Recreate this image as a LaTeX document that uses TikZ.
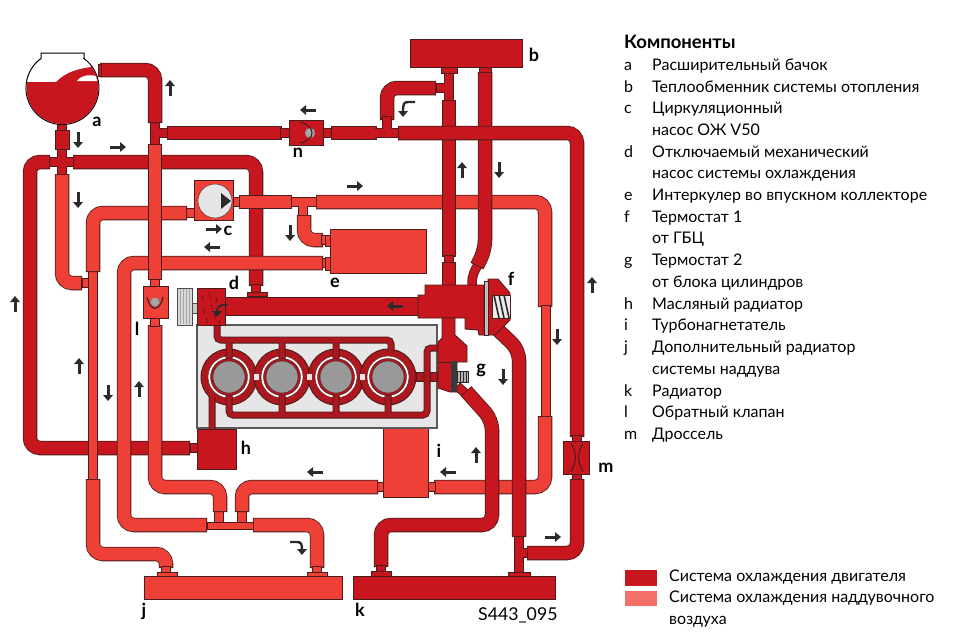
\documentclass[tikz,border=0pt]{standalone}
\usepackage{fontspec}
\setmainfont{Lato}
\usetikzlibrary{arrows.meta}
\definecolor{hotred}{HTML}{C8161E}
\definecolor{coolred}{HTML}{EE4036}
\definecolor{jacketred}{HTML}{AE171D}
\definecolor{pipeink}{HTML}{4A1C1C}
\definecolor{flowink}{HTML}{2B2B2B}
\definecolor{blockgray}{HTML}{E6E6E6}
\tikzset{
pipe/.style n args={2}{draw=#1,line width=#2pt-1.6pt,rounded corners=10pt,line join=round,shorten >=.8pt,shorten <=.8pt,
  preaction={draw=pipeink,line width=#2pt,shorten >=0pt,shorten <=0pt}},
hot/.style={pipe={hotred}{14.5}},hotlink/.style={pipe={hotred}{9.5}},
cool/.style={pipe={coolred}{14.5}},coollink/.style={pipe={coolred}{9.5}},
hotbox/.style={draw=pipeink,line width=.9pt,fill=hotred},
coolbox/.style={draw=pipeink,line width=.9pt,fill=coolred},
flow/.style={draw=flowink,line width=3pt,-{Triangle[length=6pt,width=9.5pt]}},
tag/.style={font=\fontsize{18}{18}\selectfont\bfseries,text=black,inner sep=0pt},
legtext/.style={font=\fontsize{16}{16}\selectfont,text=black,inner sep=0pt,anchor=base west}
}
\begin{document}
\begin{tikzpicture}[x=1pt,y=-1pt]
\useasboundingbox (0,0) rectangle (960,637);
\fill[white] (0,0) rectangle (960,637);
% coolant pipes below the charge air circuit
\draw[hotlink] (155,121)--(155,146) (155,133)--(170,133);
\draw[hotlink] (62,122)--(62,176) (48,162)--(76,162);
\draw[hot] (100,70)--(155,70)--(155,123);
\draw[hot] (167,133)--(282,133);
\draw[hotlink] (280,133)--(292,133);
\draw[hotlink] (321,133)--(333,133);
\draw[hot] (331,133)--(377,133);
\fill[hotred,draw=pipeink] (55,130) rectangle (69,149);
\draw[hot] (73,162)--(256,162)--(256,286);
\draw[hotlink] (50,162)--(30,162)--(30,448)--(199,448);
\draw[hot] (50,162)--(30,162)--(30,448)--(190,448);
\draw[hotlink] (256,284)--(256,294);
\draw[hotbox] (247,292) rectangle (267,296);
% charge air circuit
\draw[coollink] (82,283)--(97,283);
\draw[coollink] (93,270)--(93,481);
\draw[cool] (62,174)--(62,283)--(82,283);
\draw[coollink] (185,213)--(196,213);
\draw[cool] (187,213)--(93,213)--(93,272);
\draw[coollink] (231,202)--(241,202);
\draw[coollink] (290,202)--(318,202) (303,202)--(303,217);
\draw[cool] (239,202)--(292,202);
\draw[cool] (304,215)--(304,240)--(323,240);
\draw[coollink] (321,240)--(332,240);
\draw[coollink] (321,263)--(332,263);
\draw[cool] (323,263)--(124,263)--(124,525)--(207,525);
\draw[cool] (316,202)--(545,202)--(545,307);
\draw[coollink] (546,305)--(546,418);
\draw[cool] (545,416)--(545,487)--(434,487);
\draw[coollink] (436,487)--(426,487);
\draw[coollink] (385,487)--(376,487);
\draw[coollink] (219,527)--(219,510) (242,527)--(242,510);
\draw[cool] (378,487)--(242,487)--(242,512);
\draw[cool] (220,512)--(220,487)--(155,487)--(155,325);
\fill[coolred,draw=pipeink,line width=.9pt] (207,522) rectangle (253,529);
\draw[cool] (253,525)--(317,525)--(317,568);
\draw[coollink] (317,566)--(317,574);
\draw[coolbox] (307,572) rectangle (327,576);
\draw[cool] (93,479)--(93,554)--(166,554)--(166,568);
\draw[coollink] (166,566)--(166,574);
\draw[coolbox] (157,572) rectangle (177,576);
\draw[coolbox] (144,576) rectangle (342,599);
\draw[coollink] (155,278)--(155,288);
\draw[coollink] (155,316)--(155,327);
\draw[cool] (155,144)--(155,280);
\draw[coolbox] (143,286) rectangle (168,318);
\fill[gray!70,draw=gray] (155,302) circle (4.5);
\draw[pipeink,line width=1.1pt] (147,297) .. controls (150,312) and (160,312) .. (163,297);
\draw[coolbox] (194,180) rectangle (233,220);
\fill[blockgray,draw=pipeink] (215,201) circle (17);
\fill[flowink] (221,193)--(231,201)--(221,209)--cycle;
\draw[coolbox] (330,229) rectangle (426,273);
\draw[coolbox] (325,235) rectangle (330,246);
\draw[coolbox] (325,257) rectangle (330,270);
\draw[coolbox] (383,428) rectangle (428,497);
% radiators and coolant risers on top of the air circuit
\draw[hotlink] (449,65)--(449,102) (436,88)--(449,88);
\draw[hotbox] (441,67) rectangle (457,73);
\draw[hotbox] (410,39) rectangle (522,67);
\draw[hot] (436,88)--(387,88)--(387,120);
\draw[hotlink] (375,133)--(400,133) (387,116)--(387,133);
\draw[hot] (449,100)--(449,257);
\draw[hotlink] (449,255)--(449,264);
\draw[hot] (449,262)--(449,287);
\draw[hotbox] (479,67) rectangle (491,73);
\draw[hotlink] (479,264)--(472,272)--(472,288);
\draw[hot] (485,72)--(485,250)--(477,266);
\draw[hot] (398,133)--(577,133)--(577,437);
\draw[hotlink] (577,435)--(577,443);
\draw[hotlink] (577,472)--(577,481);
\draw[hotlink] (519,535)--(519,574) (519,553)--(529,553);
\draw[hot] (577,479)--(577,553)--(527,553);
\draw[hotbox] (508,572) rectangle (530,576);
\draw[hot] (497,329)--(519,350)--(519,537);
\draw[hotlink] (457,386)--(466,394);
\draw[hot] (466,391)--(492,420)--(492,525)--(381,525)--(381,567);
\draw[hotlink] (381,565)--(381,573);
\draw[hotbox] (371,571) rectangle (391,576);
\draw[hotbox] (353,576) rectangle (555,599);
% valves
\draw[hotbox] (289,120) rectangle (323,145);
\fill[gray!70,draw=gray] (310,133) circle (5);
\draw[pipeink,line width=1.1pt] (300,122) .. controls (316,126) and (316,140) .. (300,143);
\draw[hotbox] (563,441) rectangle (589,474);
\draw[pipeink,line width=1pt] (571,443) .. controls (577,455) and (577,460) .. (571,472);
\draw[pipeink,line width=1pt] (583,443) .. controls (577,455) and (577,460) .. (583,472);
% engine block
\draw[draw=gray!70!black,line width=1.2pt,fill=blockgray] (197,325) rectangle (437,428);
\draw[pipe={jacketred}{9.5}] (416,377)--(438,377);
\foreach \cx in {229,282,336,388}{\draw[draw=pipeink,line width=.9pt,fill=jacketred] (\cx,377) circle (28);}
\foreach \mx in {256,309,362}{\fill[blockgray] (\mx-2.5,374) rectangle (\mx+2.5,380);}
\foreach \cx in {229,282,336,388}{\fill[white,draw=pipeink] (\cx,377) circle (21);}
\def\jacketline{(217,322)--(217,340)--(391,340)--(391,352) (229,340)--(229,360) (282,340)--(282,360) (336,340)--(336,360)
  (229,395)--(229,415)--(427,415)--(427,348)--(438,348) (282,395)--(282,415) (336,395)--(336,415) (388,395)--(388,415) (212,397)--(212,430)}
\draw[pipeink,line width=7pt,rounded corners=4pt] \jacketline;
\draw[jacketred,line width=5.2pt,rounded corners=4pt] \jacketline;
\foreach \cx in {229,282,336,388}{\fill[jacketred,draw=pipeink] (\cx,377) circle (18.5);
\fill[gray!80,draw=pipeink] (\cx,377) circle (16);}
\draw[hotlink] (190,448)--(199,448);
\draw[hotbox] (197,429) rectangle (236,469);
% pump d and its drive
\draw[line width=19pt,pipeink] (224,306)--(419,306);
\fill[hotred] (224,298) rectangle (419,315);
\draw[draw=gray!60!black,fill=gray!40] (192,303) rectangle (197,313);
\draw[draw=gray!60!black,fill=gray!30] (177,288) rectangle (192,325);
\foreach \px in {180,183,186,189}{\draw[gray!70] (\px,289)--(\px,324);}
\draw[hotbox] (197,288) rectangle (225,325);
\foreach \qx/\qy in {202/296,209/293,216/298,203/308,211/304,206/318,214/314,219/321}{\draw[pipeink,line width=.6pt] (\qx,\qy)--(\qx+1.5,\qy+5);}
% thermostats
\draw[hotbox] (418,295)--(425,295)--(425,285)--(484,285)--(484,335)--(479,335)--(478,330)--(465,329)--(465,318)--(418,318)--cycle;
\draw[hotbox] (488,279)--(498,279)--(510,293)--(510,320)--(505,325)--(495,335)--(488,335)--cycle;
\draw[draw=pipeink,fill=gray!50] (484,281) rectangle (488,335);
\draw[draw=pipeink,fill=white!85!gray] (492,295) rectangle (510,318);
\foreach \sx in {494,499,504}{\draw[flowink,line width=1.6pt] (\sx,295)--(\sx+5,318);}
\draw[hotbox] (442,318)--(455,318)--(455,335)--(467,346)--(467,362)--(457,362)--(457,392)--(450,392)--(438,388)--(438,342)--(442,338)--cycle;
\draw[pipeink,line width=.8pt] (438,362)--(457,362);
\fill[gray!45!black] (451,361) rectangle (457,392);
\draw[flowink,fill=gray!60] (457,371) rectangle (468,382);
\foreach \sx in {460,463,466}{\draw[flowink,line width=.8pt] (\sx,371)--(\sx,382);}
% expansion tank
\draw[draw=black,line width=1pt,fill=white] (84,58.5)--(84,53)--(41,53)--(41,58.5) arc[start angle=234,end angle=-54,radius=36.5]--cycle;
\begin{scope}
\clip (62.5,88) circle (36);
\fill[hotred] (20,82)--(56,82) .. controls (66,72) and (78,68) .. (100,66)--(100,130)--(20,130)--cycle;
\fill[white] (77,81) .. controls (80,76) and (88,74) .. (96,76)--(97,81)--cycle;
\end{scope}
\draw[hotbox] (98,64) rectangle (101,76);
% flow arrows
\foreach \xa/\ya/\xb/\yb in {170/96/170/80,78/132/78/148,110/147/126/147,78/192/78/208,206/229/222/229,220/247/204/247,15/312/15/296,
 316/110/300/110,462/178/462/162,499/162/499/178,347/186/363/186,290/225/290/241,403/306/387/306,592/293/592/277,557/329/557/345,
 79/374/79/358,108/385/108/401,139/397/139/381,503/369/503/385,456/472/440/472,476/463/476/447,545/537/561/537,323/472/307/472}{
\draw[flow] (\xa,\ya)--(\xb,\yb);}
\draw[flow,line width=2.4pt] (415,102)--(408,102) .. controls (404,102) and (403,104) .. (403,117);
\draw[flow,line width=2.4pt] (290,542)--(297,542) .. controls (301,542) and (302,544) .. (302,555);
\draw[flow,line width=1.8pt] (227,305) .. controls (219,304) and (217,308) .. (217,317);
% letters on the picture
\foreach \tg/\tx/\ty in {a/97/122,b/534/55,c/228/231,d/234/283,e/335/283,f/511/279,g/481/370,h/246/448,i/439/451,j/144/611,k/360/610,l/137/329,m/606/468,n/298/153}{
\node[tag] (tag\tg) at (\tx,\ty) {\tg};}
\node[legtext,font=\fontsize{17.7}{18}\selectfont] (code) at (478,620) {S443\_095};
% list of components
\node[legtext,font=\fontsize{18.5}{19}\selectfont\bfseries] (head) at (624,48) {Компоненты};
\foreach \ly/\lt/\lx in {70/a/Расширительный бачок,92/b/Теплообменник системы отопления,113/c/Циркуляционный,135//насос ОЖ V50,
 157/d/Отключаемый механический,178//насос системы охлаждения,200/e/Интеркулер во впускном коллекторе,222/f/Термостат 1,243//от ГБЦ,
 265/g/Термостат 2,287//от блока цилиндров,309/h/Масляный радиатор,330/i/Турбонагнетатель,352/j/Дополнительный радиатор,374//системы наддува,
 396/k/Радиатор,417/l/Обратный клапан,439/m/Дроссель}{
\node[legtext] (let\ly) at (624,\ly) {\lt};
\node[legtext] (item\ly) at (652,\ly) {\lx};}
\fill[hotred] (625,570) rectangle (657,586);
\fill[coolred!75!white] (625,591) rectangle (657,606);
\node[legtext] (leghot) at (669,581) {Система охлаждения двигателя};
\node[legtext] (legcool) at (669,602) {Система охлаждения наддувочного};
\node[legtext] (legair) at (669,624) {воздуха};
\end{tikzpicture}
\end{document}
